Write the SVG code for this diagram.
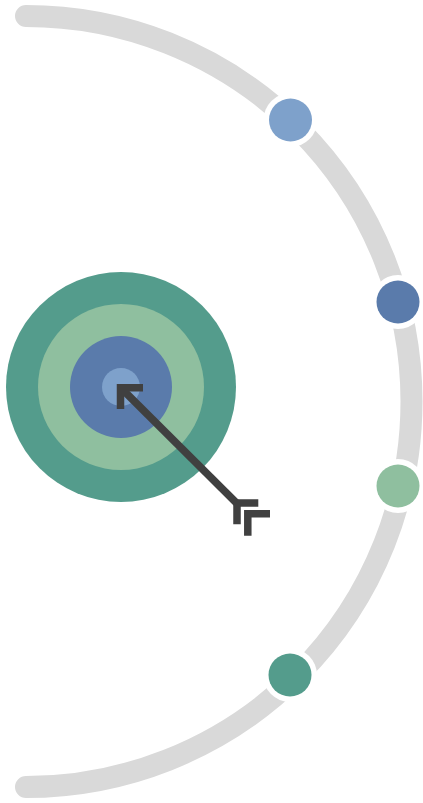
<svg xmlns="http://www.w3.org/2000/svg" width="423" height="803" viewBox="0 0 423 803">
<style>
.ring{fill:#ffffff}
.arrow{fill:none;stroke:#404040;stroke-width:7.5;stroke-linecap:butt;stroke-linejoin:miter}
</style>
<rect width="423" height="803" fill="#ffffff"/>
<g id="connectors">
<path d="M 26 16 A 385.5 385.5 0 0 1 26 787" fill="none" stroke="#d9d9d9" stroke-width="22" stroke-linecap="round"/>
</g>
<g id="dot1"><circle class="ring" cx="290.5" cy="120" r="27"/><circle cx="290.5" cy="120" r="21.5" fill="#7ea1cb"/></g>
<g id="dot2"><circle class="ring" cx="398" cy="302" r="27"/><circle cx="398" cy="302" r="21.5" fill="#5a7bab"/></g>
<g id="dot3"><circle class="ring" cx="398" cy="486" r="27"/><circle cx="398" cy="486" r="21.5" fill="#8fbf9f"/></g>
<g id="dot4"><circle class="ring" cx="290" cy="675" r="27"/><circle cx="290" cy="675" r="21.5" fill="#549c8c"/></g>
<g id="target">
<circle cx="121" cy="387" r="115" fill="#549c8c"/>
<circle cx="121" cy="387" r="83" fill="#8fbf9f"/>
<circle cx="121" cy="387" r="51" fill="#5a7bab"/>
<circle cx="121" cy="387" r="19" fill="#7ea1cb"/>
</g>
<g id="arrow">
<line class="arrow" x1="121" y1="388" x2="237" y2="503.5"/>
<polyline class="arrow" points="143,387.7 120.5,387.7 120.5,409"/>
<polyline class="arrow" points="258.3,503 237,503 237,524.3"/>
<polyline class="arrow" points="270,513.8 247.8,513.8 247.8,535.7"/>
</g>
</svg>
